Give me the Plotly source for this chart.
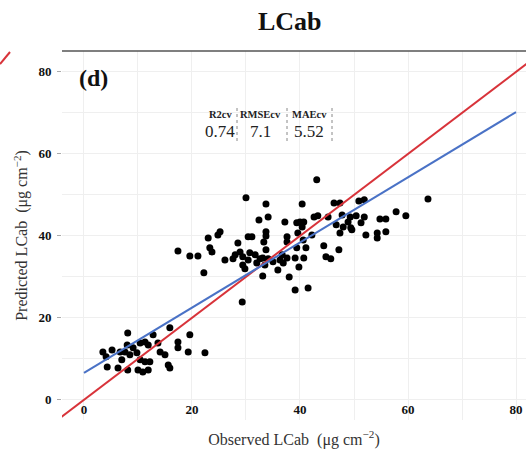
import plotly.graph_objects as go

# Observed vs predicted leaf chlorophyll (LCab), µg cm^-2
observed = [
    3.5, 4.1, 5.2, 4.3, 6.3, 7.0, 7.6, 8.0, 8.1, 8.5, 9.8, 10.4, 11.3, 12.8, 11.9,
    10.4, 11.3, 12.2, 8.1, 10.0, 10.9, 11.9, 13.7, 14.1, 15.0, 15.6, 15.9, 15.9,
    17.4, 17.4, 19.3, 19.6, 22.4, 9.1, 6.7,
    30.0, 33.7, 32.4, 34.1, 25.2, 24.8, 23.0, 17.4, 19.6, 21.1, 23.3, 23.7, 22.2,
    28.5, 30.4, 31.1, 33.7, 33.7, 33.3, 33.7, 28.9, 28.0, 27.6, 26.1, 29.4, 30.7,
    31.7, 30.4, 29.4, 29.8, 32.0, 32.6, 33.1, 33.5, 34.1, 35.0, 33.1, 29.3,
    43.1, 40.4, 46.3, 47.4, 50.9, 51.9, 63.7, 57.8, 59.6, 54.8, 55.9, 37.2, 39.4,
    40.0, 40.7, 40.4, 42.6, 43.3, 45.2, 47.8, 49.3, 50.4, 51.9, 46.7, 48.0, 48.9,
    49.4, 51.3, 47.4, 49.6, 52.2, 54.3, 54.3, 55.9, 37.6, 39.6, 37.6, 40.6, 42.2,
    39.4, 41.1, 44.4, 47.2, 44.8, 45.7, 36.7, 37.6, 39.1, 40.7, 36.9, 39.8, 38.0,
    35.9, 39.1, 41.5, 36.3,
]
predicted = [
    11.7, 10.5, 12.2, 8.0, 7.8, 9.8, 11.7, 13.4, 16.3, 11.0, 11.5, 13.9, 14.1, 15.9, 13.4,
    9.8, 9.3, 9.3, 7.3, 7.3, 6.8, 7.3, 13.9, 11.7, 11.0, 8.5, 7.8, 17.6,
    14.1, 12.7, 11.7, 15.9, 11.5, 12.7, 11.7,
    49.3, 47.8, 43.9, 44.6, 41.0, 40.2, 39.5, 36.3, 35.1, 35.1, 37.1, 36.1, 31.0,
    38.3, 39.8, 39.8, 41.0, 40.0, 38.5, 36.6, 36.1, 35.4, 34.4, 34.1, 34.9, 35.9,
    35.4, 34.1, 32.9, 32.0, 33.4, 34.4, 34.6, 32.9, 34.4, 33.7, 30.2, 23.9,
    53.7, 47.8, 48.0, 48.0, 48.5, 48.8, 49.0, 45.9, 44.9, 44.1, 44.1, 43.4, 43.2,
    43.4, 43.4, 42.2, 44.6, 44.9, 44.6, 45.1, 44.6, 44.9, 44.6, 42.7, 42.2, 43.4,
    42.0, 43.2, 40.7, 41.5, 40.2, 40.7, 39.5, 41.0, 39.8, 40.7, 38.5, 39.0, 40.2,
    37.1, 37.1, 37.6, 36.6, 34.9, 34.4, 35.4, 34.6, 34.6, 34.6, 33.4, 32.4, 30.0,
    31.7, 26.8, 27.3, 34.1,
]

# Cross-validation statistics
stat_names = ["R2cv", "RMSEcv", "MAEcv"]
stat_values = ["0.74", "7.1", "5.52"]

# Axis ticks
tick_values = [0, 20, 40, 60, 80]
tick_labels = ["0", "20", "40", "60", "80"]

# Reference 1:1 line and fitted regression line (intercept, slope)
one_to_one = [-6, 90]
fit_range = [0, 80]
fit_intercept = 6.6
fit_slope = 0.795

x_range = [-4.07, 81.85]
y_range = [-4.9, 85.1]

fit_y = [fit_intercept + fit_slope * v for v in fit_range]

serif = "Liberation Serif, Times New Roman, serif"
bold_ticks = ["<b>%s</b>" % t for t in tick_labels]

fig = go.Figure()
fig.add_trace(go.Scatter(
    x=observed, y=predicted, mode="markers",
    marker=dict(color="black", size=7),
    showlegend=False, hoverinfo="skip",
))
fig.add_trace(go.Scatter(
    x=one_to_one, y=one_to_one, mode="lines",
    line=dict(color="#d8333a", width=2),
    showlegend=False, hoverinfo="skip",
))
fig.add_trace(go.Scatter(
    x=fit_range, y=fit_y, mode="lines",
    line=dict(color="#4a72c6", width=2),
    showlegend=False, hoverinfo="skip",
))

grid_style = dict(
    showgrid=True, gridcolor="#efefef", gridwidth=1,
    zeroline=False, showline=False,
    tickmode="array", tickvals=tick_values, ticktext=bold_ticks,
    tickfont=dict(family=serif, size=13, color="#111111"),
    minor=dict(dtick=10, tick0=0, showgrid=True, gridcolor="#efefef", gridwidth=1),
)

fig.update_xaxes(
    range=x_range, ticks="",
    ticklabelposition="inside",
    title=dict(text="Observed LCab  (μg cm<sup>−2</sup>)",
               font=dict(family=serif, size=16, color="#333333"), standoff=17),
    **grid_style,
)
fig.update_yaxes(
    range=y_range, ticks="outside", ticklen=4,
    tickcolor="#aaaaaa", ticklabelstandoff=3,
    title=dict(text="Predicted LCab  (μg cm<sup>−2</sup>)",
               font=dict(family=serif, size=16, color="#333333"), standoff=6),
    **grid_style,
)

shapes = [
    # top border of the panel
    dict(type="line", xref="paper", yref="paper", x0=0, x1=1, y0=1, y1=1,
         line=dict(color="#555555", width=1.5)),
    # edge of neighbouring panel's 1:1 line
    dict(type="line", xref="paper", yref="paper",
         x0=-62 / 464, x1=-52 / 464, y0=(420 - 64) / 369, y1=(420 - 52) / 369,
         line=dict(color="#d8333a", width=2)),
]

# table of statistics: column centres and dotted separators (pixel positions)
col_px = [220, 260, 309]
sep_px = [237, 287, 332]
for sx in sep_px:
    shapes.append(dict(
        type="line", xref="paper", yref="paper",
        x0=(sx - 62) / 464, x1=(sx - 62) / 464,
        y0=(420 - 141) / 369, y1=(420 - 105) / 369,
        line=dict(color="#888888", width=1, dash="dot"),
    ))

annotations = [
    dict(text="<b>LCab</b>", xref="paper", yref="paper",
         x=(290 - 62) / 464, y=(420 - 22) / 369, showarrow=False,
         xanchor="center", yanchor="middle",
         font=dict(family=serif, size=26, color="#111111")),
    dict(text="<b>(d)</b>", xref="paper", yref="paper",
         x=(77 - 62) / 464, y=(420 - 78) / 369, showarrow=False,
         xanchor="left", yanchor="middle",
         font=dict(family=serif, size=24, color="#111111")),
]
for cx, name, val in zip(col_px, stat_names, stat_values):
    annotations.append(dict(
        text="<b>%s</b>" % name, xref="paper", yref="paper",
        x=(cx - 62) / 464, y=(420 - 114) / 369, showarrow=False,
        xanchor="center", yanchor="middle",
        font=dict(family=serif, size=10.5, color="#222222")))
    annotations.append(dict(
        text=val, xref="paper", yref="paper",
        x=(cx - 62) / 464, y=(420 - 131) / 369, showarrow=False,
        xanchor="center", yanchor="middle",
        font=dict(family=serif, size=17, color="#222222")))

fig.update_layout(
    width=526, height=459,
    margin=dict(l=62, r=0, t=51, b=39),
    paper_bgcolor="white", plot_bgcolor="white",
    shapes=shapes, annotations=annotations,
)

fig.write_html("out.html")
